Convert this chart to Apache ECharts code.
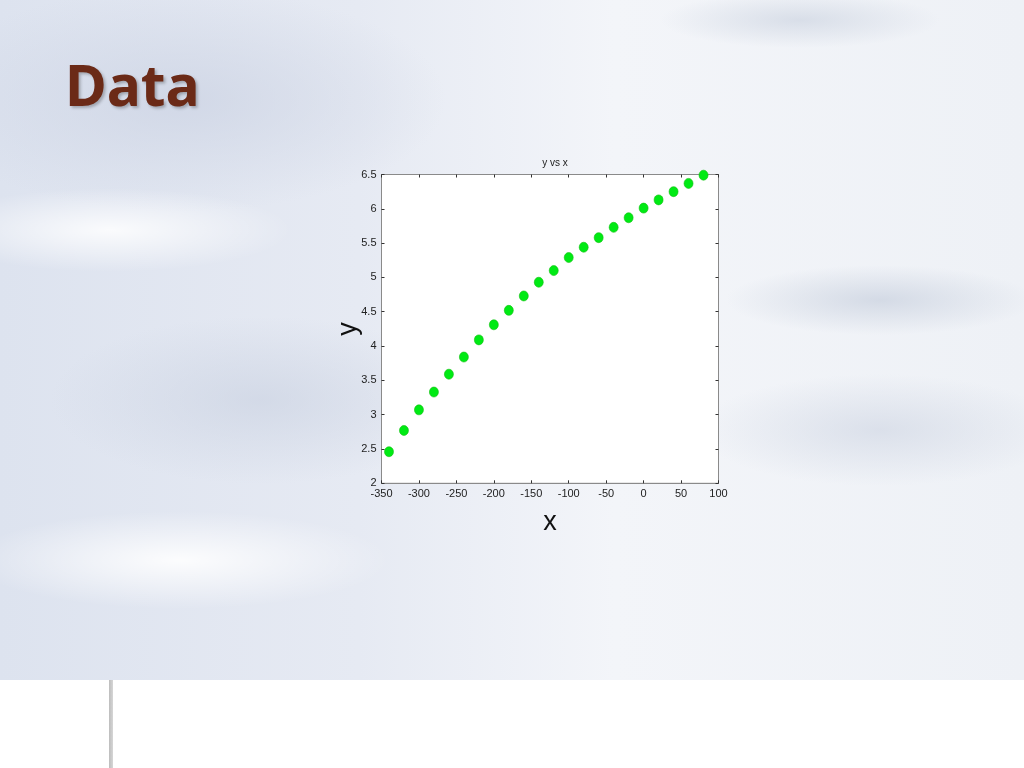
<!DOCTYPE html>
<html>
<head>
<meta charset="utf-8">
<script src="https://cdn.jsdelivr.net/npm/echarts@6/dist/echarts.min.js"></script>
<style>
html,body{margin:0;padding:0;width:1024px;height:768px;overflow:hidden;}
body{
  background:
    radial-gradient(ellipse 260px 60px at 110px 230px, rgba(255,255,255,0.85), rgba(255,255,255,0) 70%),
    radial-gradient(ellipse 300px 70px at 180px 560px, rgba(255,255,255,0.9), rgba(255,255,255,0) 70%),
    radial-gradient(ellipse 220px 50px at 880px 300px, rgba(200,208,222,0.7), rgba(200,208,222,0) 70%),
    radial-gradient(ellipse 200px 40px at 800px 20px, rgba(200,208,222,0.6), rgba(200,208,222,0) 70%),
    radial-gradient(ellipse 260px 80px at 880px 430px, rgba(205,212,226,0.6), rgba(205,212,226,0) 70%),
    radial-gradient(ellipse 300px 120px at 260px 400px, rgba(200,208,224,0.6), rgba(200,208,224,0) 70%),
    radial-gradient(ellipse 380px 160px at 180px 100px, rgba(205,212,228,0.8), rgba(205,212,228,0) 70%),
    linear-gradient(90deg, #dde3ef 0%, #e6eaf3 35%, #f3f5f9 60%, #eef1f6 100%);
}
#bottom{position:absolute;left:0;top:680px;width:1024px;height:88px;background:#ffffff;}
#vline{position:absolute;left:109px;top:680px;width:4px;height:88px;background:linear-gradient(90deg,#bdbdbd,#d6d6d6);}
#chart{position:absolute;left:0;top:0;width:1024px;height:768px;}
</style>
</head>
<body>
<div id="bottom"></div>
<div id="vline"></div>
<div id="chart"></div>
<script>
const xValues = [-340,-320,-300,-280,-260,-240,-220,-200,-180,-160,-140,-120,-100,-80,-60,-40,-20,0,20,40,60,80];
const yValues = [2.46,2.77,3.07,3.33,3.59,3.84,4.09,4.31,4.52,4.73,4.93,5.10,5.29,5.44,5.58,5.73,5.87,6.01,6.13,6.25,6.37,6.49];
const chartTitle = 'y vs x';
const slideTitle = 'Data';
const xName = 'x';
const yName = 'y';

const points = xValues.map((x, i) => [x, yValues[i]]);
const chart = echarts.init(document.getElementById('chart'), null, {renderer: 'canvas'});
const labelFont = {fontFamily: 'Liberation Sans, Arial, sans-serif', fontSize: 11, color: '#222'};
const boxColor = '#8a8a8a';
const tickStyle = {show: true, inside: true, length: 3, lineStyle: {color: '#333', width: 1}};
const lineStyleBox = {show: true, onZero: false, lineStyle: {color: boxColor}};

chart.setOption({
  backgroundColor: 'transparent',
  animation: false,
  title: [
    {text: slideTitle, left: 60, top: 56,
     textStyle: {fontFamily: 'Noto Sans', fontWeight: 'bold', fontSize: 57, color: '#6b2a17',
       textShadowColor: 'rgba(0,0,0,0.25)', textShadowBlur: 3, textShadowOffsetX: 2, textShadowOffsetY: 2}},
    {text: chartTitle, left: 550, textAlign: 'center', top: 153,
     textStyle: {fontFamily: 'Liberation Sans, Arial, sans-serif', fontWeight: 'normal', fontSize: 10, color: '#222'}}
  ],
  grid: {left: 381.5, top: 174.5, width: 337, height: 308.8, show: true, backgroundColor: '#ffffff', borderColor: boxColor, borderWidth: 1},
  xAxis: [
    {type: 'value', min: -350, max: 100, interval: 50, position: 'bottom',
     axisLine: lineStyleBox, axisTick: tickStyle,
     axisLabel: Object.assign({margin: 5}, labelFont), splitLine: {show: false},
     name: xName, nameLocation: 'middle', nameGap: 26, nameMoveOverlap: false,
     nameTextStyle: {fontFamily: 'Liberation Sans, Arial, sans-serif', fontSize: 27, color: '#111'}},
    {type: 'value', min: -350, max: 100, interval: 50, position: 'top',
     axisLine: lineStyleBox, axisTick: tickStyle,
     axisLabel: {show: false}, splitLine: {show: false}}
  ],
  yAxis: [
    {type: 'value', min: 2, max: 6.5, interval: 0.5, position: 'left',
     axisLine: lineStyleBox, axisTick: tickStyle,
     axisLabel: Object.assign({margin: 5}, labelFont), splitLine: {show: false},
     name: yName, nameLocation: 'middle', nameGap: 19, nameRotate: 90, nameMoveOverlap: false,
     nameTextStyle: {fontFamily: 'Liberation Sans, Arial, sans-serif', fontSize: 27, color: '#111'}},
    {type: 'value', min: 2, max: 6.5, interval: 0.5, position: 'right',
     axisLine: lineStyleBox, axisTick: tickStyle,
     axisLabel: {show: false}, splitLine: {show: false}}
  ],
  series: [{
    type: 'scatter', xAxisIndex: 0, yAxisIndex: 0, data: points,
    symbol: 'circle', symbolSize: [9, 10],
    itemStyle: {color: '#00ea14', borderColor: '#10c010', borderWidth: 0.6, opacity: 1}
  }]
});
</script>
</body>
</html>
